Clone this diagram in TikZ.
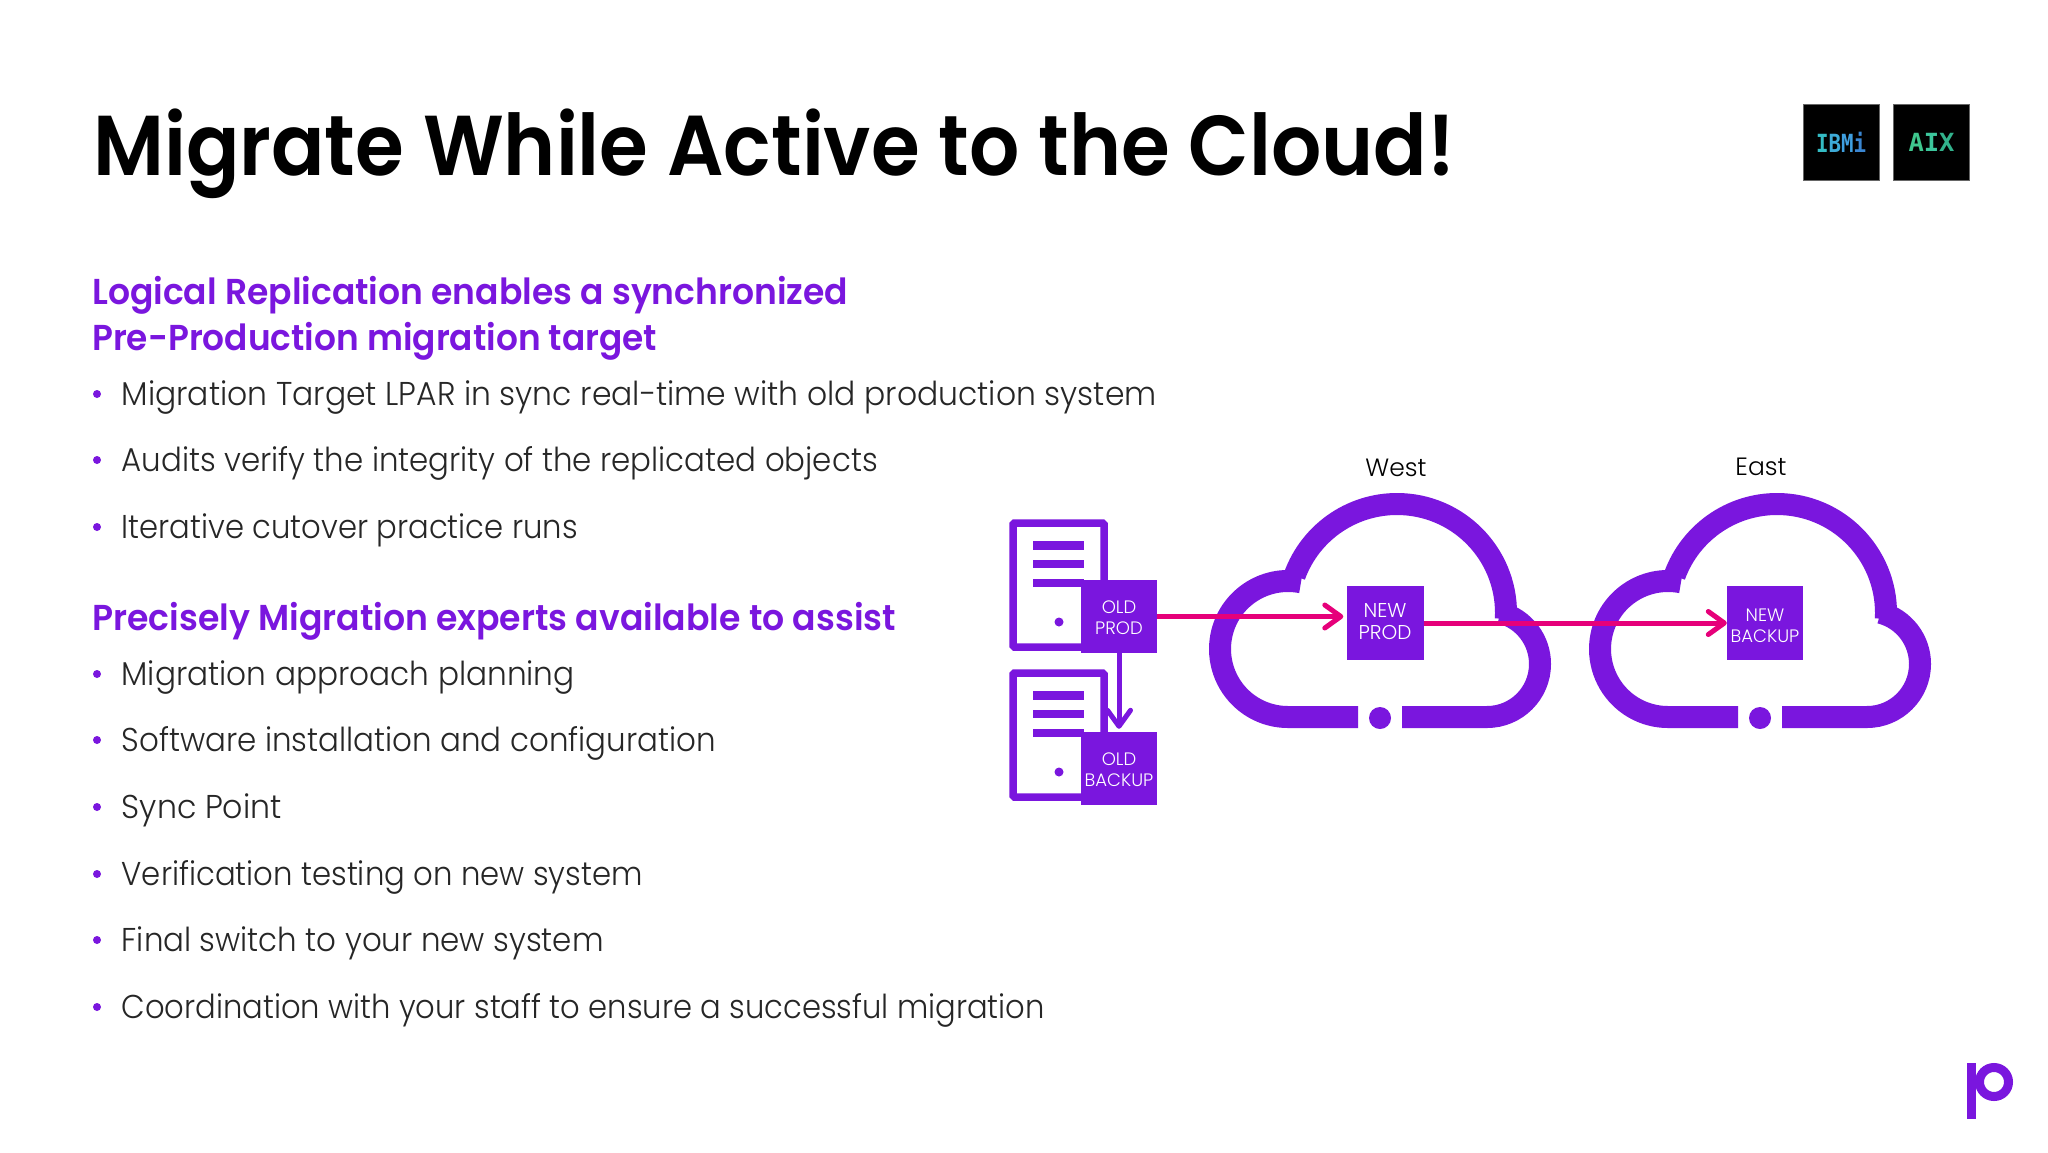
\documentclass[tikz,border=0pt]{standalone}
\usepackage{fontspec}
\usepackage{graphicx}
\usetikzlibrary{arrows.meta}
\setmainfont{Poppins}
\newfontfamily\ttlf{Poppins SemiBold}
\newfontfamily\headf{Poppins SemiBold}
\newfontfamily\bodyf{Poppins Light}
\newfontfamily\labf{Poppins Light}
\newfontfamily\logof{DejaVu Sans Mono Bold}
\definecolor{pviolet}{HTML}{7A16DE}
\definecolor{ppink}{HTML}{E6007A}
\definecolor{lgA}{HTML}{34BCC4}
\definecolor{lgB}{HTML}{3DAAD6}
\definecolor{lgC}{HTML}{3F9FE0}
\definecolor{lgD}{HTML}{3A86D2}
\definecolor{lgE}{HTML}{3FC78E}
\definecolor{lgF}{HTML}{3CC69C}
\definecolor{lgG}{HTML}{32B28C}
\newcommand{\fitw}[2]{\resizebox{#1pt}{\height}{#2}}
\tikzset{
  txt/.style={anchor=base west,inner sep=0pt},
  titletext/.style={txt,font=\ttlf\fontsize{85}{85}\selectfont,text=black},
  headtext/.style={txt,font=\headf\fontsize{36}{36}\selectfont,text=pviolet},
  bodytext/.style={txt,font=\bodyf\fontsize{33}{33}\selectfont,text=black!85},
  bullet/.style={circle,fill=pviolet,inner sep=0pt,minimum size=8pt},
  tag/.style={fill=pviolet,inner sep=0pt},
  tagtext/.style={text=white,inner sep=0pt,align=center,font=\labf\fontsize{18}{21}\selectfont},
  regionlabel/.style={inner sep=0pt,font=\labf\fontsize{25}{25}\selectfont,text=black},
  cloudline/.style={draw=pviolet,line width=22pt},
  srv/.style={draw=pviolet,line width=7.5pt,rounded corners=1.5pt},
  bar/.style={fill=pviolet},
  pinkarrow/.style={draw=ppink,line width=5pt,-{Straight Barb[length=16pt,width=23pt,line cap=round,round]}},
  violetarrow/.style={draw=pviolet,line width=5pt,-{Straight Barb[length=16pt,width=23pt,line cap=round,round]}},
  logobox/.style={fill=black,draw=black!60,line width=0.8pt,inner sep=0pt,minimum size=76pt,font=\logof\fontsize{25}{25}\selectfont}
}
\newcommand{\cloudicon}{%
  \draw[cloudline] (1782,717) -- (1867,717) arc[start angle=90,end angle=-75,radius=53pt];
  \draw[cloudline] (1777,613) ++(3:109pt) arc[start angle=3,end angle=-160,radius=109pt];
  \draw[cloudline] (1668,649) ++(-79:68pt) arc[start angle=-79,end angle=-270,radius=68pt] -- (1738,717);
  \fill[pviolet] (1760,718) circle[radius=11pt];
}
\newcommand{\servericon}[1]{%
  \begin{scope}[yshift=#1 pt]
  \draw[srv] (1013,523) rectangle (1104,647);
  \fill[bar] (1033,541) rectangle (1084,550);
  \fill[bar] (1033,560) rectangle (1084,568);
  \fill[bar] (1033,579) rectangle (1084,587);
  \fill[pviolet] (1059,622) circle[radius=4.5pt];
  \end{scope}
}
\begin{document}
\begin{tikzpicture}[x=1pt,y=1pt,yscale=-1]
\useasboundingbox[fill=white] (0,0) rectangle (2048,1152);
% heading
\node[titletext] (title) at (93,175) {\fitw{1362}{Migrate While Active to the Cloud!}};
\node[logobox] (ibmi) at (1841,142) {\fitw{50}{\textcolor{lgA}{I}\textcolor{lgB}{B}\textcolor{lgC}{M}\textcolor{lgD}{i}}};
\node[logobox] (aix) at (1931.5,142) {\fitw{46}{\textcolor{lgE}{A}\textcolor{lgF}{I}\textcolor{lgG}{X}}};
% text column
\node[headtext] (h1) at (92,304) {\fitw{756}{Logical Replication enables a synchronized}};
\node[headtext] (h2) at (92,350) {\fitw{565}{Pre-Production migration target}};
\node[bodytext] (b1) at (121.5,405) {\fitw{1035}{Migration Target LPAR in sync real-time with old production system}};
\node[bodytext] (b2) at (121.5,471.5) {\fitw{756}{Audits verify the integrity of the replicated objects}};
\node[bodytext] (b3) at (121.5,538) {\fitw{456}{Iterative cutover practice runs}};
\node[headtext] (h3) at (92,630) {\fitw{804}{Precisely Migration experts available to assist}};
\node[bodytext] (b4) at (121.5,685) {\fitw{453}{Migration approach planning}};
\node[bodytext] (b5) at (121.5,751.5) {\fitw{594}{Software installation and configuration}};
\node[bodytext] (b6) at (121.5,818) {\fitw{160}{Sync Point}};
\node[bodytext] (b7) at (121.5,885) {\fitw{521}{Verification testing on new system}};
\node[bodytext] (b8) at (121.5,951.5) {\fitw{482}{Final switch to your new system}};
\node[bodytext] (b9) at (121.5,1018) {\fitw{923}{Coordination with your staff to ensure a successful migration}};
\foreach \n/\y in {k1/394,k2/460,k3/527,k4/674,k5/740,k6/807,k7/874,k8/940,k9/1007}
  \node[bullet] (\n) at (97,\y) {};
% diagram icons
\servericon{0}
\servericon{150}
\cloudicon
\begin{scope}[xshift=-380pt]\cloudicon\end{scope}
\node[tag,minimum width=76pt,minimum height=73pt,label={[tagtext,yshift=-1.5pt]center:OLD\\PROD}] (oldprod) at (1119,616.5) {};
\node[tag,minimum width=76pt,minimum height=73pt,label={[tagtext,yshift=-1.5pt]center:OLD\\BACKUP}] (oldbackup) at (1119,768.5) {};
\node[tag,minimum width=77pt,minimum height=74pt,label={[tagtext,yshift=1pt,font=\labf\fontsize{20}{22}\selectfont]center:NEW\\PROD}] (newprod) at (1385,623) {};
\node[tag,minimum width=76pt,minimum height=74pt,label={[tagtext,yshift=-3pt]center:NEW\\BACKUP}] (newbackup) at (1765,623) {};
\node[regionlabel] (west) at (1396,468) {West};
\node[regionlabel] (east) at (1761,467) {East};
% connectors
\draw[pinkarrow,shorten >=3pt] (oldprod.east) -- (newprod.west |- oldprod.east);
\draw[pinkarrow] (newprod.east) -- (newbackup.west);
\draw[violetarrow,shorten >=3pt] (oldprod.south) -- (oldbackup.north);
% brand mark
\fill[pviolet] (1967,1063) rectangle (1976,1119);
\draw[pviolet,line width=9pt] (1994,1082) circle[radius=14.5pt];
\end{tikzpicture}
\end{document}
